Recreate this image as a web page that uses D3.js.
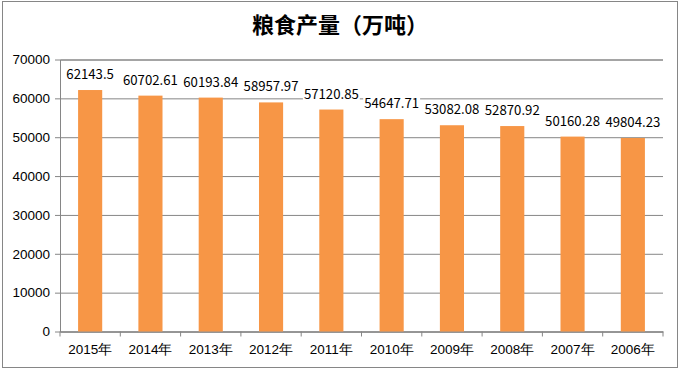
<!DOCTYPE html>
<html>
<head>
<meta charset="utf-8">
<script src="https://cdn.jsdelivr.net/npm/d3@7"></script>
<style>
  body { margin: 0; background: #fff; }
  svg { display: block; font-family: "Noto Sans CJK SC", "Noto Sans", sans-serif; }
</style>
</head>
<body>
<div id="chart"></div>
<script>
// data
const years = ["2015年", "2014年", "2013年", "2012年", "2011年", "2010年", "2009年", "2008年", "2007年", "2006年"];
const values = [62143.5, 60702.61, 60193.84, 58957.97, 57120.85, 54647.71, 53082.08, 52870.92, 50160.28, 49804.23];
const labels = ["62143.5", "60702.61", "60193.84", "58957.97", "57120.85", "54647.71", "53082.08", "52870.92", "50160.28", "49804.23"];
const yTicks = [0, 10000, 20000, 30000, 40000, 50000, 60000, 70000];

// svg
const width = 680,
  height = 371,
  margin = { top: 59.5, right: 17, bottom: 39.5, left: 60 };

const svg = d3.select("#chart")
  .append("svg")
  .attr("width", width)
  .attr("height", height);

// outer frame
svg.append("rect")
  .attr("x", 2.5).attr("y", 1.5)
  .attr("width", 675).attr("height", 366)
  .attr("fill", "#fff")
  .attr("stroke", "#868686");

// scales
const x = d3.scaleBand()
  .domain(years)
  .range([margin.left, width - margin.right]);

const y = d3.scaleLinear()
  .domain([0, 70000])
  .range([height - margin.bottom, margin.top]);

// gridlines + y axis
const yAxis = d3.axisLeft(y)
  .tickValues(yTicks)
  .tickSize(-(width - margin.left - margin.right))
  .tickPadding(10)
  .tickFormat(d3.format("d"));

const gy = svg.append("g")
  .attr("transform", `translate(${margin.left},0)`)
  .call(yAxis);

gy.select(".domain").attr("stroke", "#868686");
gy.selectAll(".tick line")
  .attr("stroke", "#868686")
  .attr("x1", -5);
gy.selectAll(".tick text")
  .attr("font-size", 13.5)
  .attr("fill", "#000")
  .attr("x", -10);

// x axis
const xAxis = d3.axisBottom(x).tickSize(0).tickPadding(10);
const gx = svg.append("g")
  .attr("transform", `translate(0,${y(0)})`)
  .call(xAxis);
gx.select(".domain").attr("stroke", "#868686");
gx.selectAll(".tick text")
  .attr("font-size", 13.5)
  .attr("fill", "#000")
  .attr("dy", "0.9em");

// tick marks at band edges
const edges = d3.range(years.length + 1).map((i) => margin.left + i * x.step());
svg.append("g")
  .selectAll("line")
  .data(edges)
  .join("line")
  .attr("x1", (d) => d).attr("x2", (d) => d)
  .attr("y1", y(0)).attr("y2", y(0) + 5)
  .attr("stroke", "#868686");

// bars
const barW = x.bandwidth() * 0.4;
svg.append("g")
  .selectAll("rect")
  .data(values)
  .join("rect")
  .attr("x", (d, i) => x(years[i]) + (x.bandwidth() - barW) / 2)
  .attr("y", (d) => y(d))
  .attr("width", barW)
  .attr("height", (d) => y(0) - y(d))
  .attr("fill", "#F79646");

// data labels (white box behind, hides the gridline)
const lab = svg.append("g")
  .selectAll("g")
  .data(values)
  .join("g");

const labText = lab.append("text")
  .attr("x", (d, i) => x(years[i]) + x.bandwidth() / 2)
  .attr("y", (d) => y(d) - 11)
  .attr("text-anchor", "middle")
  .attr("font-size", 13.2)
  .attr("fill", "#000")
  .text((d, i) => labels[i]);

labText.each(function () {
  const b = this.getBBox();
  d3.select(this.parentNode).insert("rect", "text")
    .attr("x", b.x - 1).attr("y", b.y + 2)
    .attr("width", b.width + 2).attr("height", b.height - 3)
    .attr("fill", "#fff");
});

// title
svg.append("text")
  .attr("x", 340)
  .attr("y", 33)
  .attr("text-anchor", "middle")
  .attr("font-size", 22)
  .attr("font-weight", "bold")
  .attr("fill", "#000")
  .text("粮食产量（万吨）");
</script>
</body>
</html>
